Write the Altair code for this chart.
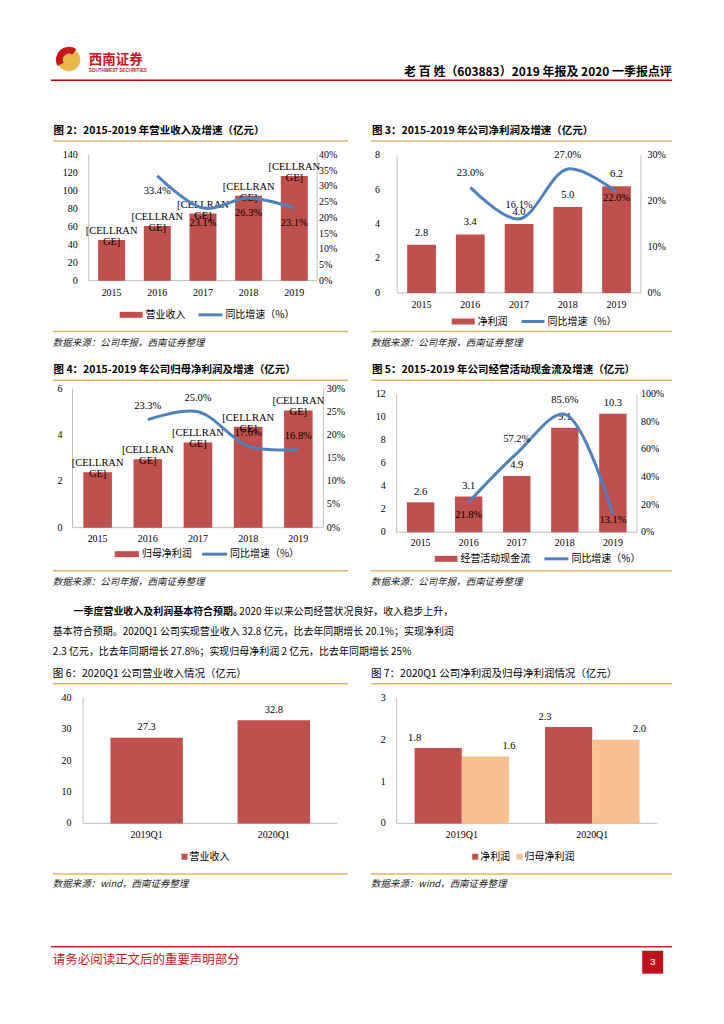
import altair as alt
import pandas as pd

# ---------------- data ----------------
years = ["2015", "2016", "2017", "2018", "2019"]
revenue = [45.2, 60.9, 74.7, 94.7, 116.6]
revenue_growth = [None, 0.334, 0.231, 0.263, 0.231]
net_profit = [2.8, 3.4, 4.0, 5.0, 6.2]
net_profit_growth = [None, 0.230, 0.161, 0.270, 0.220]
parent_profit = [2.39, 2.95, 3.68, 4.35, 5.06]
parent_profit_growth = [None, 0.233, 0.250, 0.176, 0.168]
op_cash = [2.6, 3.1, 4.9, 9.1, 10.3]
op_cash_growth = [None, 0.218, 0.572, 0.856, 0.131]
broken_label = "[CELLRAN\nGE]"

quarters = ["2019Q1", "2020Q1"]
q_revenue = [27.3, 32.8]
q_series = ["净利润", "归母净利润"]
q_net_profit = [1.8, 2.3]
q_parent_profit = [1.6, 2.0]

ticks_rev = [0, 20, 40, 60, 80, 100, 120, 140]
ticks_rev_g = [0, 0.05, 0.10, 0.15, 0.20, 0.25, 0.30, 0.35, 0.40]
ticks_np = [0, 2, 4, 6, 8]
ticks_np_g = [0, 0.10, 0.20, 0.30]
ticks_pp = [0, 2, 4, 6]
ticks_pp_g = [0, 0.05, 0.10, 0.15, 0.20, 0.25, 0.30]
ticks_cf = [0, 2, 4, 6, 8, 10, 12]
ticks_cf_g = [0, 0.20, 0.40, 0.60, 0.80, 1.00]
ticks_q_rev = [0, 10, 20, 30, 40]
ticks_q_np = [0, 1, 2, 3]

# ---------------- styles ----------------
RED = "#C0504D"
BLUE = "#4F81BD"
PEACH = "#FAC090"
AXIS = "#BFBFBF"
GOLD = "#E0B46C"
BRAND = "#C8161D"
CJK = "Noto Sans CJK SC"
SERIF = "Liberation Serif"
ONE = pd.DataFrame({"k": [0]})
PAGE_W = 708
RIGHT = 354  # x offset of right-hand figures inside a row


def txt(x, y, s, size=10, font=CJK, weight="normal", color="#000000",
        align="left", style="normal"):
    return alt.Chart(ONE).mark_text(
        align=align, baseline="middle", fontSize=size, font=font,
        fontWeight=weight, color=color, fontStyle=style
    ).encode(x=alt.value(x), y=alt.value(y), text=alt.value(s))


def hrule(x1, x2, y, color=AXIS, w=1.0):
    return alt.Chart(ONE).mark_rule(color=color, strokeWidth=w).encode(
        x=alt.value(x1), x2=alt.value(x2), y=alt.value(y))


def vrule(x, y1, y2, color=AXIS, w=1.0):
    return alt.Chart(ONE).mark_rule(color=color, strokeWidth=w).encode(
        x=alt.value(x), y=alt.value(y1), y2=alt.value(y2))


def box(x1, x2, y1, y2, color):
    return alt.Chart(ONE).mark_rect(color=color).encode(
        x=alt.value(x1), x2=alt.value(x2), y=alt.value(y1), y2=alt.value(y2))


def frame(c, o):
    return [
        txt(o + c["tx"], c["ty"], c["title"], size=10.5, weight=c.get("tw", "bold")),
        hrule(o + c["r1"], o + c["r2"], c["ry"], GOLD, 1.5),
        hrule(o + c["r1"], o + c["r2"], c["sry"], GOLD, 1.5),
        txt(o + c["r1"], c["sy"], c["source"], size=9.5, style="italic", color="#222222"),
    ]


def bar_line_fig(c, o):
    xsc = alt.Scale(domain=years, range=[o + c["xl"], o + c["xr"]],
                    paddingInner=c["pad"], paddingOuter=c["pad"] / 2)
    ysc = alt.Scale(domain=[0, c["ymax"]], range=[c["yb"], c["yt"]], nice=False, zero=True)
    gsc = alt.Scale(domain=[0, c["gmax"]], range=[c["yb"], c["yt"]], nice=False, zero=True)
    X = alt.X("year:O", scale=xsc, axis=None, sort=years)
    bdf = pd.DataFrame({"year": years, "v": c["bars"]})
    gdf = pd.DataFrame({"year": years, "g": c["growth"]}).dropna()

    L = frame(c, o)
    L += [vrule(o + c["xl"], c["yt"], c["yb"]), vrule(o + c["xr"], c["yt"], c["yb"]),
          hrule(o + c["xl"], o + c["xr"], c["yb"])]
    L.append(alt.Chart(bdf).mark_bar(color=RED).encode(
        x=X, y=alt.Y("v:Q", scale=ysc, axis=None)))
    if c["broken"]:
        bdf2 = bdf.assign(lab=broken_label)
        L.append(alt.Chart(bdf2).mark_text(
            font=SERIF, fontSize=10.5, baseline="bottom", lineBreak="\n",
            lineHeight=11, dy=-4).encode(
            x=X, y=alt.Y("v:Q", scale=ysc, axis=None), text="lab:N"))
    else:
        L.append(alt.Chart(bdf).mark_text(
            font=SERIF, fontSize=10.5, baseline="middle", dy=c["bdy"]).encode(
            x=X, y=alt.Y("v:Q", scale=ysc, axis=None),
            text=alt.Text("v:Q", format=".1f")))
    L.append(alt.Chart(gdf).mark_line(
        color=BLUE, strokeWidth=3, interpolate="catmull-rom").encode(
        x=X, y=alt.Y("g:Q", scale=gsc, axis=None)))
    for yrs, dy in c["glab"]:
        L.append(alt.Chart(gdf).transform_filter(
            alt.FieldOneOfPredicate(field="year", oneOf=yrs)).mark_text(
            font=SERIF, fontSize=10.5, baseline="middle", dy=dy).encode(
            x=X, y=alt.Y("g:Q", scale=gsc, axis=None),
            text=alt.Text("g:Q", format=".1%")))
    L.append(alt.Chart(pd.DataFrame({"v": c["lt"]})).mark_text(
        font=SERIF, fontSize=10, align="right", baseline="middle").encode(
        x=alt.value(o + c["lx"]), y=alt.Y("v:Q", scale=ysc, axis=None),
        text=alt.Text("v:Q", format="d")))
    L.append(alt.Chart(pd.DataFrame({"v": c["rt"]})).mark_text(
        font=SERIF, fontSize=10, align="left", baseline="middle").encode(
        x=alt.value(o + c["rx"]), y=alt.Y("v:Q", scale=gsc, axis=None),
        text=alt.Text("v:Q", format=".0%")))
    L.append(alt.Chart(bdf).mark_text(
        font=SERIF, fontSize=10, baseline="middle").encode(
        x=X, y=alt.value(c["xly"]), text="year:N"))
    ly = c["ly"]
    L += [box(o + c["lb1"], o + c["lb2"], ly - 3, ly + 3, RED),
          txt(o + c["lb2"] + 3, ly, c["lname"], size=10),
          hrule(o + c["ll1"], o + c["ll2"], ly, BLUE, 3),
          txt(o + c["ll2"] + 3, ly, "同比增速（%）", size=10)]
    return L


def q_revenue_fig(c, o):
    xsc = alt.Scale(domain=quarters, range=[o + c["xl"], o + c["xr"]],
                    paddingInner=c["pad"], paddingOuter=c["pad"] / 2)
    ysc = alt.Scale(domain=[0, c["ymax"]], range=[c["yb"], c["yt"]], nice=False, zero=True)
    X = alt.X("q:O", scale=xsc, axis=None, sort=quarters)
    df = pd.DataFrame({"q": quarters, "v": q_revenue})
    L = frame(c, o)
    L += [vrule(o + c["xl"], c["yt"], c["yb"]), hrule(o + c["xl"], o + c["xr"], c["yb"])]
    L.append(alt.Chart(df).mark_bar(color=RED).encode(
        x=X, y=alt.Y("v:Q", scale=ysc, axis=None)))
    L.append(alt.Chart(df).mark_text(font=SERIF, fontSize=10.5, dy=-10.5).encode(
        x=X, y=alt.Y("v:Q", scale=ysc, axis=None), text=alt.Text("v:Q", format=".1f")))
    L.append(alt.Chart(pd.DataFrame({"v": c["lt"]})).mark_text(
        font=SERIF, fontSize=10, align="right", baseline="middle").encode(
        x=alt.value(o + c["lx"]), y=alt.Y("v:Q", scale=ysc, axis=None),
        text=alt.Text("v:Q", format="d")))
    L.append(alt.Chart(df).mark_text(font=SERIF, fontSize=10, baseline="middle").encode(
        x=X, y=alt.value(c["xly"]), text="q:N"))
    ly = c["ly"]
    L += [box(o + 173, o + 179, ly - 3, ly + 3, RED), txt(o + 181, ly, "营业收入", size=10)]
    return L


def q_profit_fig(c, o):
    xsc = alt.Scale(domain=quarters, range=[o + c["xl"], o + c["xr"]],
                    paddingInner=c["pad"], paddingOuter=c["pad"] / 2)
    ysc = alt.Scale(domain=[0, c["ymax"]], range=[c["yb"], c["yt"]], nice=False, zero=True)
    X = alt.X("q:O", scale=xsc, axis=None, sort=quarters)
    XO = alt.XOffset("s:N", scale=alt.Scale(domain=q_series, paddingInner=0, paddingOuter=0),
                     sort=q_series)
    df = pd.DataFrame({
        "q": quarters * 2,
        "s": [q_series[0]] * 2 + [q_series[1]] * 2,
        "v": q_net_profit + q_parent_profit,
    })
    L = frame(c, o)
    L += [vrule(o + c["xl"], c["yt"], c["yb"]), hrule(o + c["xl"], o + c["xr"], c["yb"])]
    L.append(alt.Chart(df).mark_bar().encode(
        x=X, xOffset=XO, y=alt.Y("v:Q", scale=ysc, axis=None),
        color=alt.Color("s:N", scale=alt.Scale(domain=q_series, range=[RED, PEACH]), legend=None)))
    L.append(alt.Chart(df).mark_text(font=SERIF, fontSize=10.5, dy=-10.5).encode(
        x=X, xOffset=XO, y=alt.Y("v:Q", scale=ysc, axis=None),
        text=alt.Text("v:Q", format=".1f")))
    L.append(alt.Chart(pd.DataFrame({"v": c["lt"]})).mark_text(
        font=SERIF, fontSize=10, align="right", baseline="middle").encode(
        x=alt.value(o + c["lx"]), y=alt.Y("v:Q", scale=ysc, axis=None),
        text=alt.Text("v:Q", format="d")))
    L.append(alt.Chart(pd.DataFrame({"q": quarters})).mark_text(
        font=SERIF, fontSize=10, baseline="middle").encode(
        x=X, y=alt.value(c["xly"]), text="q:N"))
    ly = c["ly"]
    L += [box(o + 110.5, o + 116.5, ly - 3, ly + 3, RED), txt(o + 118.5, ly, q_series[0], size=10),
          box(o + 155, o + 161, ly - 3, ly + 3, PEACH), txt(o + 163, ly, q_series[1], size=10)]
    return L


def row(layers, h):
    return alt.layer(*layers).resolve_scale(
        x="independent", y="independent", xOffset="independent", color="independent"
    ).properties(width=PAGE_W, height=h)


SRC1 = "数据来源：公司年报，西南证券整理"
SRC2 = "数据来源：wind，西南证券整理"

fig2 = bar_line_fig(dict(
    title="图 2：2015-2019 年营业收入及增速（亿元）", tx=44.7, ty=20,
    r1=44, r2=340, ry=30, sry=221, sy=232.7, source=SRC1,
    xl=80, xr=309, yb=170, yt=44, ymax=140, gmax=0.4, pad=0.41,
    bars=revenue, growth=revenue_growth, broken=True, bdy=-10,
    glab=[(["2016", "2017", "2018", "2019"], 15)],
    lt=ticks_rev, rt=ticks_rev_g, lx=69, rx=311, xly=182.3,
    ly=204.3, lb1=111, lb2=134, ll1=190, ll2=214, lname="营业收入"), 0)

fig3 = bar_line_fig(dict(
    title="图 3：2015-2019 年公司净利润及增速（亿元）", tx=10, ty=20,
    r1=9, r2=311, ry=30, sry=221, sy=233, source=SRC1,
    xl=35.3, xr=279.7, yb=182.3, yt=44.3, ymax=8, gmax=0.3, pad=0.41,
    bars=net_profit, growth=net_profit_growth, broken=False, bdy=-12,
    glab=[(["2016", "2017", "2018"], -14), (["2019"], 6.5)],
    lt=ticks_np, rt=ticks_np_g, lx=18, rx=286.3, xly=194.3,
    ly=211, lb1=90, lb2=113, ll1=160, ll2=183, lname="净利润"), RIGHT)

fig4 = bar_line_fig(dict(
    title="图 4：2015-2019 年公司归母净利润及增速（亿元）", tx=44.7, ty=20,
    r1=44, r2=340, ry=30, sry=221, sy=232.7, source=SRC1,
    xl=63.7, xr=315.3, yb=177.7, yt=38.3, ymax=6, gmax=0.3, pad=0.43,
    bars=parent_profit, growth=parent_profit_growth, broken=True, bdy=-10,
    glab=[(["2016", "2017", "2018", "2019"], -13.5)],
    lt=ticks_pp, rt=ticks_pp_g, lx=53.7, rx=318.7, xly=189,
    ly=204.3, lb1=106, lb2=130.3, ll1=193.7, ll2=218.7, lname="归母净利润"), 0)

fig5 = bar_line_fig(dict(
    title="图 5：2015-2019 年公司经营活动现金流及增速（亿元）", tx=10, ty=20,
    r1=9, r2=311, ry=30, sry=221, sy=232.7, source=SRC1,
    xl=34.7, xr=275.7, yb=182.3, yt=44, ymax=12, gmax=1.0, pad=0.43,
    bars=op_cash, growth=op_cash_growth, broken=False, bdy=-10.5,
    glab=[(["2017", "2018"], -14), (["2016"], 13), (["2019"], 6)],
    lt=ticks_cf, rt=ticks_cf_g, lx=23.7, rx=279.7, xly=193.3,
    ly=209, lb1=73, lb2=95.7, ll1=183, ll2=207, lname="经营活动现金流"), RIGHT)

fig6 = q_revenue_fig(dict(
    title="图 6：2020Q1 公司营业收入情况（亿元）", tx=44, ty=10.3, tw="normal",
    r1=44, r2=340, ry=20.3, sry=211, sy=221, source=SRC2,
    xl=74.3, xr=329.3, yb=160.3, yt=34.3, ymax=40, pad=0.43,
    lt=ticks_q_rev, lx=62.7, xly=171.7, ly=193.7), 0)

fig7 = q_profit_fig(dict(
    title="图 7：2020Q1 公司净利润及归母净利润情况（亿元）", tx=9, ty=10.3, tw="normal",
    r1=9, r2=311, ry=20.3, sry=211, sy=221, source=SRC2,
    xl=34.7, xr=296.3, yb=160.3, yt=34.3, ymax=3, pad=0.276,
    lt=ticks_q_np, lx=23.7, xly=171.7, ly=193.7), RIGHT)

header = alt.layer(
    hrule(0, 708, 0.5, "#FFFFFF", 0.5),
    alt.Chart(ONE).mark_point(filled=True, shape="circle", size=530, color="#E8B84B", opacity=1).encode(
        x=alt.value(60), y=alt.value(50.5)),
    alt.Chart(ONE).mark_arc(color=BRAND, theta=4.2, theta2=6.9, radius=13, radius2=6).encode(
        x=alt.value(60), y=alt.value(50.5)),
    txt(80, 50.5, "西南证券", size=13.5, weight="bold", color=BRAND),
    txt(80, 61.5, "SOUTHWEST SECURITIES", size=4.6, font="Liberation Sans", weight="bold", color=BRAND),
    txt(664.7, 63, "老 百 姓（603883）2019 年报及 2020 一季报点评", size=12, weight="bold", align="right"),
    hrule(42, 665, 71, "#C00000", 1.5),
).properties(width=PAGE_W, height=102)

para = alt.layer(
    txt(64.7, 20, "一季度营业收入及利润基本符合预期。", size=10, weight="bold"),
    txt(231, 20, "2020 年以来公司经营状况良好，收入稳步上升，", size=10),
    txt(44, 40, "基本符合预期。2020Q1 公司实现营业收入 32.8 亿元，比去年同期增长 20.1%；实现净利润", size=10),
    txt(44, 60, "2.3 亿元，比去年同期增长 27.8%；实现归母净利润 2 亿元，比去年同期增长 25%", size=10),
).properties(width=PAGE_W, height=72)

footer = alt.layer(
    hrule(42, 665, 53, "#D0202A", 1.5),
    txt(44, 66, "请务必阅读正文后的重要声明部分", size=12.5, color=BRAND),
    box(635, 656, 57, 80, "#C0101A"),
    txt(645.5, 68.5, "3", size=10, color="#FFFFFF", align="center", font="Liberation Sans"),
    hrule(0, 708, 104.5, "#FFFFFF", 0.5),
).properties(width=PAGE_W, height=105)

row1 = row(fig2 + fig3, 240)
row2 = row(fig4 + fig5, 242)
row3 = row(fig6 + fig7, 231)

chart = alt.vconcat(
    header, row1, row2, para, row3, footer, spacing=0, bounds="flush"
).properties(padding=0, background="#FFFFFF").configure_view(stroke=None)

chart.save("out.html", embed_options={"renderer": "svg", "actions": False})
